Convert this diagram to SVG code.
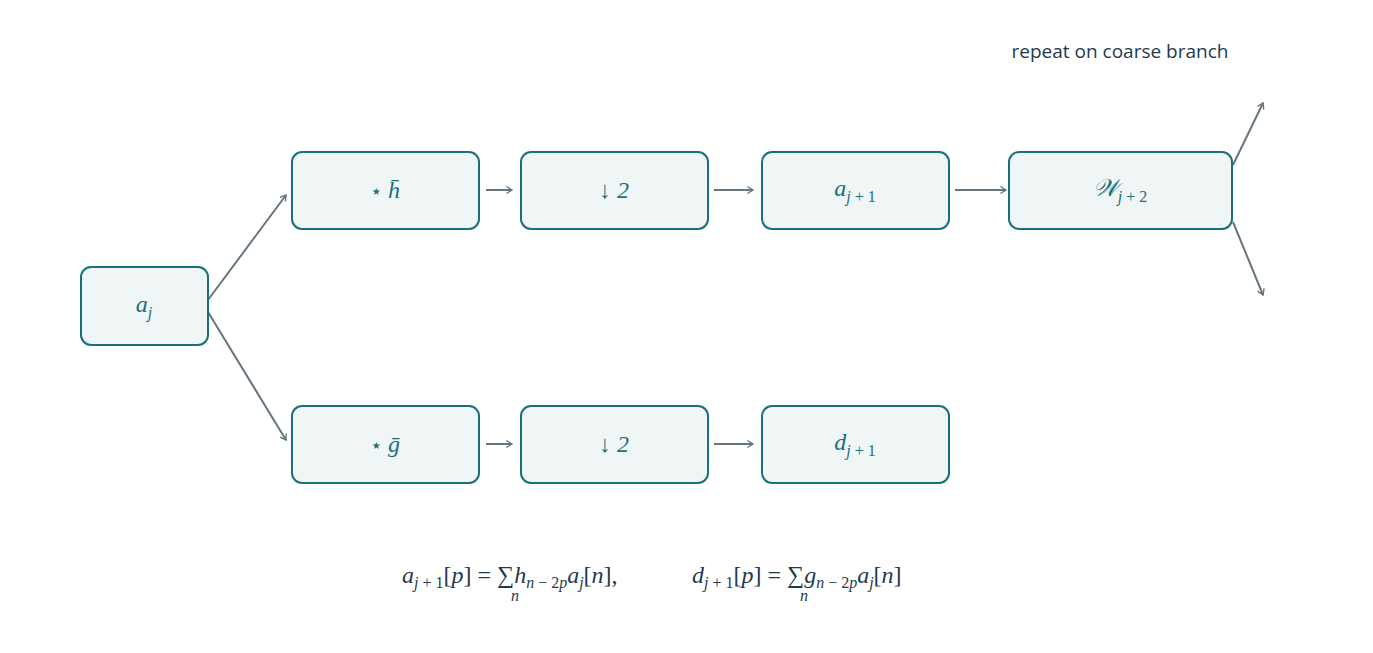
<svg xmlns="http://www.w3.org/2000/svg" width="1373" height="653" viewBox="0 0 1373 653">
<style>
.n{fill:#f0f5f6;stroke:#17707a;stroke-width:2}
.t{font-family:"Liberation Serif",serif;font-style:italic;font-size:24px;fill:#17707a;text-anchor:middle}
.s{font-size:16px;font-style:normal}
.si{font-size:16px}
.c{stroke:#66757f;stroke-width:2;fill:none;marker-end:url(#a)}
.f{font-family:"Liberation Serif",serif;font-size:24px;fill:#1f3a4d}
</style>
<defs><marker id="a" viewBox="0 0 10 10" refX="9" refY="5" markerWidth="7" markerHeight="7" orient="auto" markerUnits="userSpaceOnUse" overflow="visible"><path d="M1,0 L9,5 L1,10" fill="none" stroke="#66757f" stroke-width="2"/></marker></defs>
<rect width="1373" height="653" fill="#fff"/>
<text x="1120" y="58" font-family="Open Sans,sans-serif" font-size="19" fill="#1f3a4d" text-anchor="middle">repeat on coarse branch</text>
<g id="connectors">
<path class="c" d="M208,300 L286,195"/>
<path class="c" d="M208,312 L286,440"/>
<path class="c" d="M486,190 L512,190"/>
<path class="c" d="M714,190 L753,190"/>
<path class="c" d="M955,190 L1006,190"/>
<path class="c" d="M486,444 L512,444"/>
<path class="c" d="M714,444 L753,444"/>
<path class="c" d="M1233,165 L1263,103"/>
<path class="c" d="M1233,222 L1263,295"/>
</g>
<g id="aj"><rect class="n" x="81" y="267" width="127" height="78" rx="10"/><text class="t" x="144" y="312">a<tspan class="si" dy="6">j</tspan></text></g>
<g id="h"><rect class="n" x="292" y="152" width="187" height="77" rx="10"/><text class="t" x="385" y="198"><tspan font-style="normal" font-size="20">⋆ </tspan>h̄</text></g>
<g id="d1"><rect class="n" x="521" y="152" width="187" height="77" rx="10"/><text class="t" x="614" y="198" font-style="normal">↓ 2</text></g>
<g id="a1"><rect class="n" x="762" y="152" width="187" height="77" rx="10"/><text class="t" x="855" y="196">a<tspan class="si" dy="6">j</tspan><tspan class="s"> + 1</tspan></text></g>
<g id="w"><rect class="n" x="1009" y="152" width="223" height="77" rx="10"/><text class="t" x="1120" y="196" font-family="Liberation Serif,serif">𝒲<tspan class="si" dy="6">j</tspan><tspan class="s"> + 2</tspan></text></g>
<g id="g"><rect class="n" x="292" y="406" width="187" height="77" rx="10"/><text class="t" x="385" y="452"><tspan font-style="normal" font-size="20">⋆ </tspan>ḡ</text></g>
<g id="d2"><rect class="n" x="521" y="406" width="187" height="77" rx="10"/><text class="t" x="614" y="452" font-style="normal">↓ 2</text></g>
<g id="dj"><rect class="n" x="762" y="406" width="187" height="77" rx="10"/><text class="t" x="855" y="450">d<tspan class="si" dy="6">j</tspan><tspan class="s"> + 1</tspan></text></g>
<text class="f" x="402" y="583"><tspan font-style="italic">a</tspan><tspan font-size="16" dy="5"><tspan font-style="italic">j</tspan> + 1</tspan><tspan dy="-5">[</tspan><tspan font-style="italic">p</tspan>] = ∑<tspan font-style="italic">h</tspan><tspan font-size="16" dy="5"><tspan font-style="italic">n</tspan> − 2<tspan font-style="italic">p</tspan></tspan><tspan font-style="italic" dy="-5">a</tspan><tspan font-size="16" font-style="italic" dy="5">j</tspan><tspan dy="-5">[</tspan><tspan font-style="italic">n</tspan>],</text>
<text x="511" y="601" font-family="Liberation Serif,serif" font-style="italic" font-size="16" fill="#1f3a4d">n</text>
<text class="f" x="692" y="583"><tspan font-style="italic">d</tspan><tspan font-size="16" dy="5"><tspan font-style="italic">j</tspan> + 1</tspan><tspan dy="-5">[</tspan><tspan font-style="italic">p</tspan>] = ∑<tspan font-style="italic">g</tspan><tspan font-size="16" dy="5"><tspan font-style="italic">n</tspan> − 2<tspan font-style="italic">p</tspan></tspan><tspan font-style="italic" dy="-5">a</tspan><tspan font-size="16" font-style="italic" dy="5">j</tspan><tspan dy="-5">[</tspan><tspan font-style="italic">n</tspan>]</text>
<text x="800" y="601" font-family="Liberation Serif,serif" font-style="italic" font-size="16" fill="#1f3a4d">n</text>
</svg>
